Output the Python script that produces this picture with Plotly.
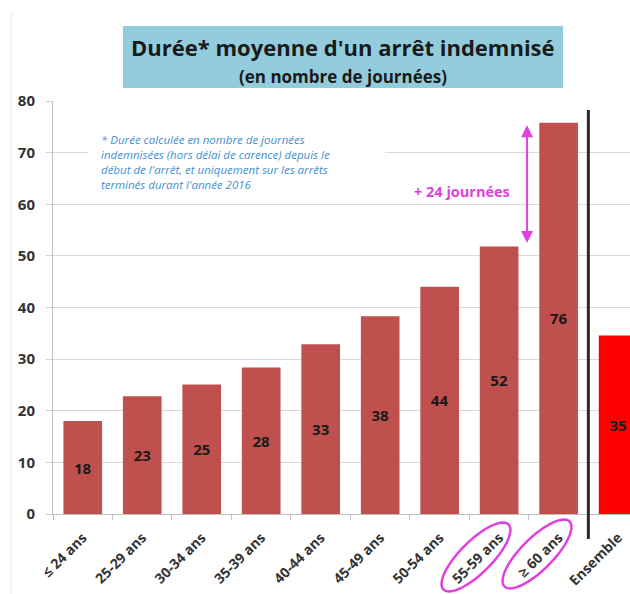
import numpy as np
import plotly.graph_objects as go

categories = ["≤ 24 ans", "25-29 ans", "30-34 ans", "35-39 ans", "40-44 ans",
              "45-49 ans", "50-54 ans", "55-59 ans", "≥ 60 ans", "Ensemble"]
values = [18.0, 22.8, 25.1, 28.4, 32.9, 38.3, 44.0, 51.8, 75.8, 34.6]
labels = ["18", "23", "25", "28", "33", "38", "44", "52", "76", "35"]
y_ticks = [0, 10, 20, 30, 40, 50, 60, 70, 80]
footnote_lines = ["* Durée calculée en nombre de journées",
                  "indemnisées (hors délai de carence) depuis le",
                  "début de l'arrêt, et uniquement sur les arrêts",
                  "terminés durant l'année 2016"]

W, H = 630, 594
ML, MR, MT, MB = 53, 0, 101, 80
PW, PH = W - ML - MR, H - MT - MB
FONT = "Open Sans"


def px2paper(px, py):
    return (px - ML) / PW, (H - MB - py) / PH


colors = ["#C0504D"] * 9 + ["#FF0000"]

fig = go.Figure()
fig.add_trace(go.Bar(
    x=categories, y=values, marker_color=colors, marker_line_width=0,
    text=labels, textposition="inside", insidetextanchor="middle",
    textangle=0,
    textfont=dict(family=FONT, size=15, color="#1a1a1a", weight="bold"),
    hoverinfo="skip",
))

shapes = []
# title box
x0, y0 = px2paper(123, 26)
x1, y1 = px2paper(563, 88)
shapes.append(dict(type="rect", xref="paper", yref="paper", x0=x0, y0=y1, x1=x1, y1=y0,
                   fillcolor="#93CDDD", line=dict(width=0), layer="below"))
# faint left border
bx, by0 = px2paper(11, 13)
_, by1 = px2paper(11, 594)
shapes.append(dict(type="line", xref="paper", yref="paper", x0=bx, x1=bx, y0=by0, y1=by1,
                   line=dict(color="#e8e8e8", width=1)))
# white background behind footnote
wx0, wy0 = px2paper(88, 127)
wx1, wy1 = px2paper(385, 193)
shapes.append(dict(type="rect", xref="paper", yref="paper", x0=wx0, y0=wy1, x1=wx1, y1=wy0,
                   fillcolor="white", line=dict(width=0), layer="above"))
# black separator line
_, sy0 = px2paper(0, 110)
_, sy1 = px2paper(0, 539)
shapes.append(dict(type="line", xref="x", yref="paper", x0=8.5, x1=8.5, y0=sy1, y1=sy0,
                   line=dict(color="#2a2a2a", width=3)))


def ellipse_path(cx, cy, a, b):
    t = np.linspace(0, 2 * np.pi, 60)
    c = np.sqrt(0.5)
    pxs = cx + a * np.cos(t) * c + b * np.sin(t) * c
    pys = cy - a * np.cos(t) * c + b * np.sin(t) * c
    pts = [px2paper(x, y) for x, y in zip(pxs, pys)]
    return "M " + " L ".join(f"{x:.4f},{y:.4f}" for x, y in pts) + " Z"


for cx, cy in [(476, 557), (537, 554)]:
    shapes.append(dict(type="path", xref="paper", yref="paper",
                       path=ellipse_path(cx, cy, 46, 16),
                       line=dict(color="#E040E0", width=2.5)))

annotations = []
tx, ty = px2paper(343, 47)
annotations.append(dict(xref="paper", yref="paper", x=tx, y=ty, xanchor="center", yanchor="middle",
                        showarrow=False,
                        text="Durée* moyenne d'un arrêt indemnisé",
                        font=dict(family=FONT, size=22, color="#1a1a1a", weight="bold")))
tx, ty = px2paper(343, 76)
annotations.append(dict(xref="paper", yref="paper", x=tx, y=ty, xanchor="center", yanchor="middle",
                        showarrow=False,
                        text="(en nombre de journées)",
                        font=dict(family=FONT, size=17, color="#1a1a1a", weight="bold")))
fx, fy = px2paper(99, 130)
annotations.append(dict(xref="paper", yref="paper", x=fx, y=fy, xanchor="left",
                        yanchor="top", align="left", showarrow=False,
                        text="<br>".join(footnote_lines),
                        font=dict(family=FONT, size=11.5, color="#3F8FD2", style="italic")))
# double arrow
annotations.append(dict(xref="x", yref="y", axref="x", ayref="y",
                        x=7.47, y=75.3, ax=7.47, ay=52.2, text="",
                        showarrow=True, arrowside="end+start", arrowhead=2,
                        arrowsize=1.2, arrowwidth=2, arrowcolor="#E040E0"))
annotations.append(dict(xref="x", yref="y", x=6.37, y=62.4, showarrow=False,
                        text="+ 24 journées",
                        font=dict(family=FONT, size=14.5, color="#E040E0", weight="bold")))

fig.update_layout(
    width=W, height=H,
    margin=dict(l=ML, r=MR, t=MT, b=MB, pad=0),
    plot_bgcolor="white", paper_bgcolor="white",
    showlegend=False, bargap=0.35,
    shapes=shapes, annotations=annotations,
    xaxis=dict(range=[-0.5, 9.2], tickangle=-45, tickson="boundaries",
               ticks="outside", ticklen=5, tickcolor="#bfbfbf",
               ticklabelstandoff=9,
               showline=True, linecolor="#bfbfbf", linewidth=1,
               tickfont=dict(family=FONT, size=14, color="#333333", weight="bold"),
               fixedrange=True),
    yaxis=dict(range=[0, 80], tickvals=y_ticks, showgrid=True, gridcolor="#d9d9d9",
               ticks="outside", ticklen=6, tickcolor="#d0d0d0",
               ticklabelstandoff=8,
               showline=True, linecolor="#bfbfbf", linewidth=1, zeroline=False,
               tickfont=dict(family=FONT, size=15, color="#333333", weight="bold"),
               fixedrange=True),
)

fig.write_html("out.html", config={"displayModeBar": False},
               post_script="document.body.style.margin='0px';")
